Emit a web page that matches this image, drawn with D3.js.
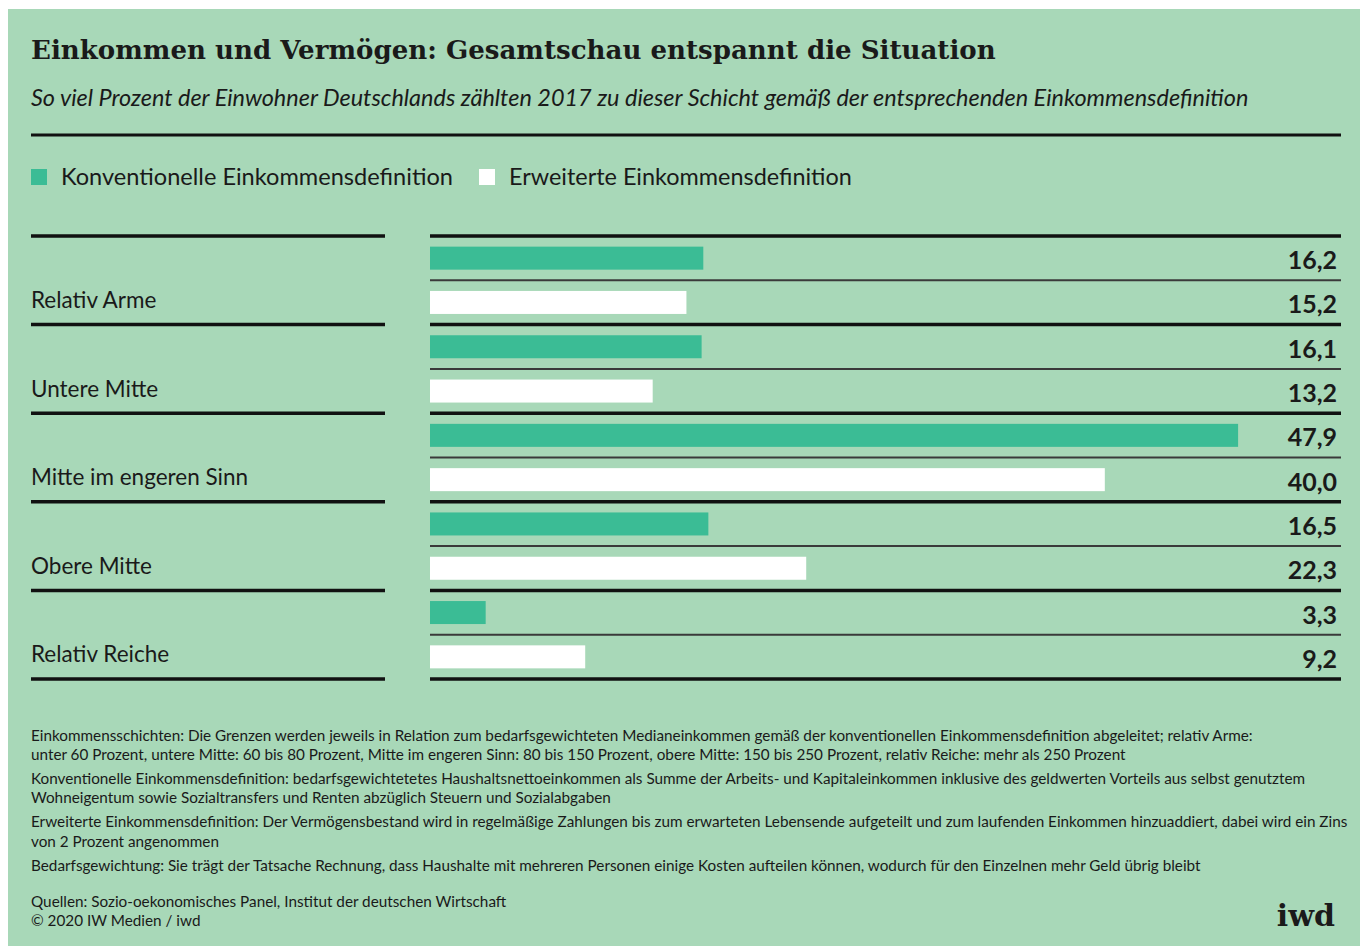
<!DOCTYPE html>
<html>
<head>
<meta charset="utf-8">
<script src="https://cdn.jsdelivr.net/npm/d3@7"></script>
<style>
  body { margin: 0; background: #fff; }
  svg { display: block; }
</style>
</head>
<body>
<div id="chart"></div>
<script>
const width = 1366;
const height = 946;

const categories = ["Relativ Arme", "Untere Mitte", "Mitte im engeren Sinn", "Obere Mitte", "Relativ Reiche"];
const seriesNames = ["Konventionelle Einkommensdefinition", "Erweiterte Einkommensdefinition"];
const konventionell = [16.2, 16.1, 47.9, 16.5, 3.3];
const erweitert = [15.2, 13.2, 40.0, 22.3, 9.2];

const title = "Einkommen und Vermögen: Gesamtschau entspannt die Situation";
const subtitle = "So viel Prozent der Einwohner Deutschlands zählten 2017 zu dieser Schicht gemäß der entsprechenden Einkommensdefinition";
const notes = [
  "Einkommensschichten: Die Grenzen werden jeweils in Relation zum bedarfsgewichteten Medianeinkommen gemäß der konventionellen Einkommensdefinition abgeleitet; relativ Arme:",
  "unter 60 Prozent, untere Mitte: 60 bis 80 Prozent, Mitte im engeren Sinn: 80 bis 150 Prozent, obere Mitte: 150 bis 250 Prozent, relativ Reiche: mehr als 250 Prozent",
  "Konventionelle Einkommensdefinition: bedarfsgewichtetetes Haushaltsnettoeinkommen als Summe der Arbeits- und Kapitaleinkommen inklusive des geldwerten Vorteils aus selbst genutztem",
  "Wohneigentum sowie Sozialtransfers und Renten abzüglich Steuern und Sozialabgaben",
  "Erweiterte Einkommensdefinition: Der Vermögensbestand wird in regelmäßige Zahlungen bis zum erwarteten Lebensende aufgeteilt und zum laufenden Einkommen hinzuaddiert, dabei wird ein Zins",
  "von 2 Prozent angenommen",
  "Bedarfsgewichtung: Sie trägt der Tatsache Rechnung, dass Haushalte mit mehreren Personen einige Kosten aufteilen können, wodurch für den Einzelnen mehr Geld übrig bleibt"
];
const sources = ["Quellen: Sozio-oekonomisches Panel, Institut der deutschen Wirtschaft", "© 2020 IW Medien / iwd"];

const data = categories.map((c, i) => ({
  category: c,
  values: [
    { key: seriesNames[0], value: konventionell[i] },
    { key: seriesNames[1], value: erweitert[i] }
  ]
}));

const bg = "#a8d8b8";
const green = "#3bbc95";
const sans = "Lato, 'Open Sans', sans-serif";
const serif = "'DejaVu Serif', serif";

const svg = d3.select("#chart")
  .append("svg")
  .attr("width", width)
  .attr("height", height);

svg.append("rect")
  .attr("x", 8).attr("y", 9)
  .attr("width", 1352).attr("height", height - 9)
  .attr("fill", bg);

// shrink/grow font so text spans target width
function fit(sel, target) {
  const fs = parseFloat(sel.attr("font-size"));
  const w = sel.node().getComputedTextLength();
  sel.attr("font-size", (fs * target / w).toFixed(2));
}

svg.append("text")
  .attr("x", 31).attr("y", 59)
  .attr("font-family", serif).attr("font-weight", 700)
  .attr("font-size", 28).attr("fill", "#1a1a1a")
  .text(title)
  .call(fit, 965);

svg.append("text")
  .attr("x", 31).attr("y", 106)
  .attr("font-family", sans).attr("font-style", "italic")
  .attr("font-size", 21).attr("fill", "#1a1a1a")
  .text(subtitle)
  .call(fit, 1218);

svg.append("line")
  .attr("x1", 31).attr("x2", 1341)
  .attr("y1", 135).attr("y2", 135)
  .attr("stroke", "#111").attr("stroke-width", 3);

// Legend
const legend = svg.append("g");
const legendX = [31, 479];
const legendColor = [green, "#fff"];
seriesNames.forEach((s, i) => {
  legend.append("rect")
    .attr("x", legendX[i]).attr("y", 169)
    .attr("width", 16).attr("height", 16)
    .attr("fill", legendColor[i]);
  const t = legend.append("text")
    .attr("x", legendX[i] + 30).attr("y", 185)
    .attr("font-family", sans).attr("font-size", 22)
    .attr("fill", "#1a1a1a")
    .text(s);
  if (i === 0) t.call(fit, 392);
  else t.call(fit, 343);
});

// Scales
const x = d3.scaleLinear()
  .domain([0, 54])
  .range([430, 1341]);

const y = d3.scaleBand()
  .domain(categories)
  .range([236, 679]);

const ySub = d3.scaleBand()
  .domain(seriesNames)
  .range([0, y.bandwidth()]);

const color = d3.scaleOrdinal()
  .domain(seriesNames)
  .range([green, "#ffffff"]);

const barH = 23;

const groups = svg.selectAll(".group")
  .data(data)
  .enter()
  .append("g")
  .attr("class", "group")
  .attr("transform", d => `translate(0,${y(d.category)})`);

// thick separators (top of each group, plus final bottom)
const sepYs = categories.map(c => y(c)).concat([y(categories[categories.length - 1]) + y.bandwidth()]);
sepYs.forEach(yy => {
  svg.append("line")
    .attr("x1", 31).attr("x2", 385)
    .attr("y1", yy).attr("y2", yy)
    .attr("stroke", "#111").attr("stroke-width", 3.5);
  svg.append("line")
    .attr("x1", 430).attr("x2", 1341)
    .attr("y1", yy).attr("y2", yy)
    .attr("stroke", "#111").attr("stroke-width", 3.5);
});

// thin line between the two bars
groups.append("line")
  .attr("x1", 430).attr("x2", 1341)
  .attr("y1", ySub(seriesNames[1])).attr("y2", ySub(seriesNames[1]))
  .attr("stroke", "#3a3a3a").attr("stroke-width", 2);

groups.selectAll("rect")
  .data(d => d.values)
  .enter()
  .append("rect")
  .attr("x", x(0))
  .attr("y", d => ySub(d.key) + (ySub.bandwidth() - barH) / 2)
  .attr("width", d => x(d.value) - x(0))
  .attr("height", barH)
  .attr("fill", d => color(d.key));

groups.selectAll(".val")
  .data(d => d.values)
  .enter()
  .append("text")
  .attr("class", "val")
  .attr("x", 1337)
  .attr("y", d => ySub(d.key) + ySub.bandwidth() / 2 + 11)
  .attr("text-anchor", "end")
  .attr("font-family", sans).attr("font-weight", 700)
  .attr("font-size", 25).attr("fill", "#1a1a1a")
  .text(d => d3.format(".1f")(d.value).replace(".", ","));

groups.append("text")
  .attr("x", 31)
  .attr("y", 72)
  .attr("font-family", sans).attr("font-size", 22.5)
  .attr("fill", "#1a1a1a")
  .text(d => d.category);

// Footnotes
const noteY = [741, 760, 784, 803, 827, 847, 871];
const notesG = svg.append("g");
let noteSize = 15;
notes.forEach((n, i) => {
  notesG.append("text")
    .attr("x", 31).attr("y", noteY[i])
    .attr("font-family", sans).attr("font-size", noteSize)
    .attr("fill", "#1a1a1a")
    .text(n);
});
// use the first line to set a common size
{
  const first = notesG.select("text");
  const w = first.node().getComputedTextLength();
  noteSize = noteSize * 1222 / w;
  notesG.selectAll("text").attr("font-size", noteSize.toFixed(2));
}

const srcY = [907, 926];
sources.forEach((s, i) => {
  svg.append("text")
    .attr("x", 31).attr("y", srcY[i])
    .attr("font-family", sans).attr("font-size", noteSize.toFixed(2))
    .attr("fill", "#1a1a1a")
    .text(s);
});

svg.append("text")
  .attr("x", 1335).attr("y", 926)
  .attr("text-anchor", "end")
  .attr("font-family", serif).attr("font-weight", 700)
  .attr("font-size", 30).attr("fill", "#1a1a1a")
  .text("iwd");
</script>
</body>
</html>
